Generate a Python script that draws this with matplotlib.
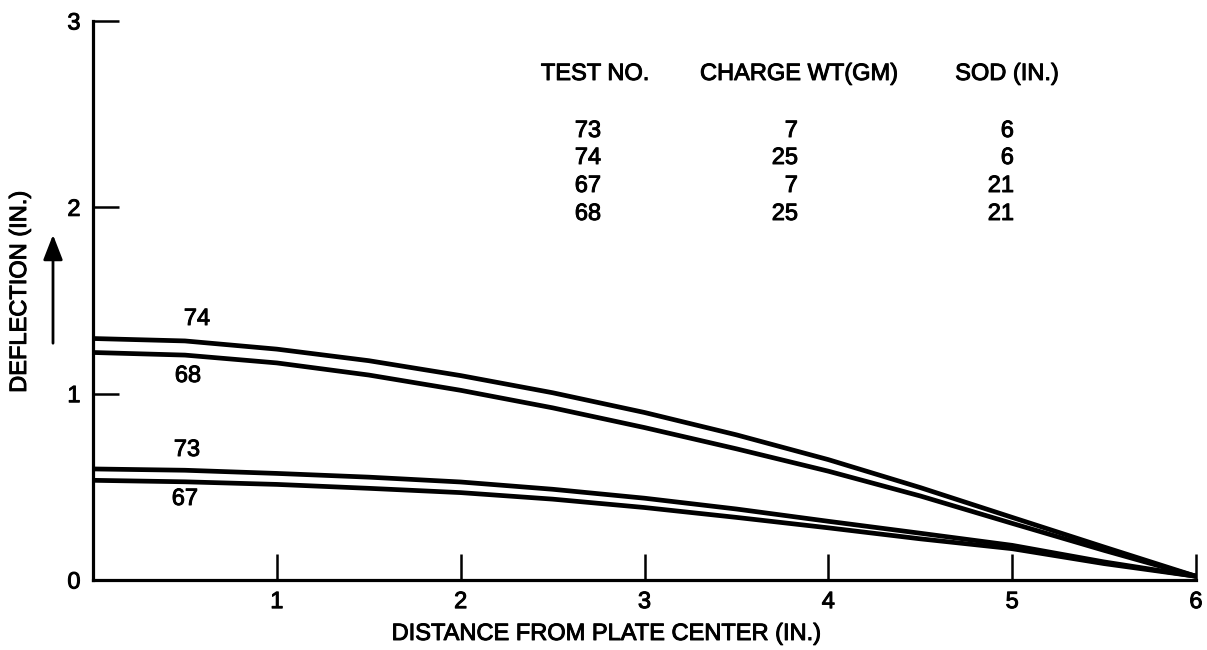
import matplotlib
matplotlib.use("Agg")
import matplotlib.pyplot as plt
import matplotlib.patheffects as pe

plt.rcParams['font.family'] = ['Liberation Sans', 'DejaVu Sans']

x_in = [0.0, 0.5, 1.0, 1.5, 2.0, 2.5, 3.0, 3.5, 4.0, 4.5, 5.0, 5.5, 6.0]
defl_74 = [1.296, 1.283, 1.239, 1.177, 1.097, 1.005, 0.899, 0.779, 0.646, 0.496, 0.336, 0.177, 0.02]
defl_68 = [1.221, 1.207, 1.165, 1.100, 1.018, 0.924, 0.818, 0.704, 0.584, 0.451, 0.304, 0.159, 0.02]
defl_73 = [0.596, 0.589, 0.572, 0.552, 0.526, 0.487, 0.439, 0.381, 0.315, 0.251, 0.186, 0.097, 0.02]
defl_67 = [0.535, 0.527, 0.513, 0.492, 0.469, 0.434, 0.389, 0.336, 0.280, 0.221, 0.168, 0.088, 0.02]

test_no = ["73", "74", "67", "68"]
charge_wt = ["7", "25", "7", "25"]
sod = ["6", "6", "21", "21"]
headers = ["TEST NO.", "CHARGE WT(GM)", "SOD (IN.)"]

xticks = [1, 2, 3, 4, 5, 6]
yticks = [0, 1, 2, 3]

W, H = 1207, 650
FS = 17
bold = [pe.withStroke(linewidth=0.7, foreground='black')]

fig = plt.figure(figsize=(W / 100, H / 100), dpi=100)
ax = fig.add_axes([93 / W, 1 - 580 / H, (1196 - 93) / W, (580 - 21) / H])

lw = 3.4
for ys in [defl_74, defl_68, defl_73, defl_67]:
    ax.plot(x_in, ys, color='black', lw=lw, solid_capstyle='butt',
            solid_joinstyle='round')

ax.set_xlim(0, 6)
ax.set_ylim(0, 3)
ax.spines['top'].set_visible(False)
ax.spines['right'].set_visible(False)
for s in ['left', 'bottom']:
    ax.spines[s].set_linewidth(2.3)
ax.set_xticks(xticks)
ax.set_xticklabels([str(t) for t in xticks])
ax.set_yticks(yticks)
ax.set_yticklabels([str(t) for t in yticks])
ax.tick_params(axis='both', direction='in', length=19, width=1.8, labelsize=FS)
ax.tick_params(axis='x', pad=8)
ax.tick_params(axis='y', pad=9)
ax.yaxis.get_major_ticks()[0].tick1line.set_visible(False)
for lab in ax.get_xticklabels() + ax.get_yticklabels():
    lab.set_path_effects(bold)

fig.text(606 / W, 1 - 634 / H, "DISTANCE FROM PLATE CENTER (IN.)", fontsize=FS,
         ha='center', va='center', path_effects=bold)
fig.text(20 / W, 1 - 292 / H, "DEFLECTION (IN.)", rotation=90, fontsize=FS,
         ha='center', va='center', path_effects=bold)
fig.patches.append(matplotlib.patches.FancyArrowPatch(
    (53 / W, 1 - 346 / H), (53 / W, 1 - 232 / H), transform=fig.transFigure,
    arrowstyle='-|>,head_length=9,head_width=3.5', mutation_scale=1.7,
    color='black', lw=2.0))

# curve labels
for (px, py, t) in [(197, 319, "74"), (188, 376, "68"), (187, 450, "73"), (185, 499, "67")]:
    fig.text(px / W, 1 - py / H, t, fontsize=FS, ha='center', va='center',
             path_effects=bold)

# table
fig.text(595 / W, 1 - 74 / H, headers[0], fontsize=FS, ha='center', va='center', path_effects=bold)
fig.text(799 / W, 1 - 74 / H, headers[1], fontsize=FS, ha='center', va='center', path_effects=bold)
fig.text(1007 / W, 1 - 74 / H, headers[2], fontsize=FS, ha='center', va='center', path_effects=bold)
row_y = [131, 158, 186, 214]
for i in range(4):
    fig.text(588 / W, 1 - row_y[i] / H, test_no[i], fontsize=FS, ha='center', va='center', path_effects=bold)
    fig.text(798 / W, 1 - row_y[i] / H, charge_wt[i], fontsize=FS, ha='right', va='center', path_effects=bold)
    fig.text(1014 / W, 1 - row_y[i] / H, sod[i], fontsize=FS, ha='right', va='center', path_effects=bold)

fig.savefig("out.png", dpi=100, facecolor='white')
